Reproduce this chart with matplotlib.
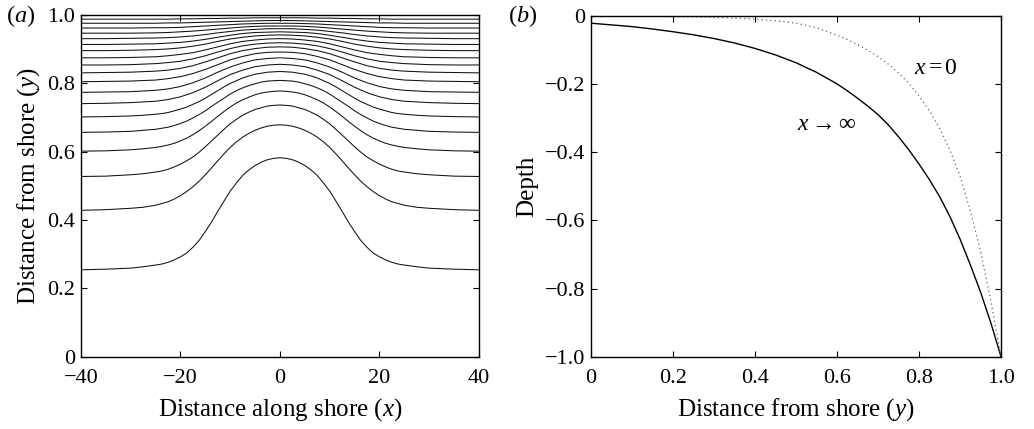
import matplotlib
matplotlib.use("Agg")
import matplotlib.pyplot as plt
from matplotlib.ticker import FuncFormatter, FixedLocator

plt.rcParams['font.family'] = ['Liberation Serif', 'DejaVu Serif']
plt.rcParams['mathtext.fontset'] = 'custom'
plt.rcParams['mathtext.rm'] = 'Liberation Serif'
plt.rcParams['mathtext.it'] = 'Liberation Serif:italic'
plt.rcParams['mathtext.cal'] = 'Liberation Serif'
plt.rcParams['axes.unicode_minus'] = True

# ---------------- Panel (a): depth contours, half profiles (x >= 0), symmetric about x = 0 ----------------
x_half_fine = [0, 1.25, 2.5, 3.75, 5, 6.25, 7.5, 8.75, 10, 11.25, 12.5, 13.75, 15, 16.25, 17.5,
               18.75, 20, 21.25, 22.5, 23.75, 25, 27.5, 30, 35, 40]
x_half_coarse = [0, 2.5, 5, 7.5, 10, 12.5, 15, 17.5, 20, 22.5, 25, 30, 35, 40]

line01 = [0.582, 0.580, 0.576, 0.569, 0.559, 0.546, 0.530, 0.508, 0.484, 0.455, 0.425, 0.394, 0.366,
          0.340, 0.320, 0.303, 0.292, 0.283, 0.276, 0.271, 0.268, 0.263, 0.259, 0.256, 0.254]
line02 = [0.678, 0.677, 0.674, 0.669, 0.662, 0.653, 0.642, 0.628, 0.612, 0.593, 0.573, 0.552, 0.532,
          0.513, 0.497, 0.483, 0.471, 0.461, 0.453, 0.448, 0.443, 0.437, 0.434, 0.430, 0.428]
line03 = [0.736, 0.735, 0.733, 0.728, 0.723, 0.715, 0.706, 0.694, 0.681, 0.665, 0.648, 0.631, 0.614,
          0.598, 0.584, 0.573, 0.563, 0.555, 0.548, 0.543, 0.540, 0.535, 0.532, 0.528, 0.527]
line04 = [0.777, 0.776, 0.774, 0.771, 0.766, 0.759, 0.751, 0.742, 0.730, 0.717, 0.703, 0.688, 0.674,
          0.661, 0.649, 0.639, 0.631, 0.624, 0.619, 0.615, 0.612, 0.608, 0.605, 0.602, 0.601]
line05 = [0.808, 0.807, 0.806, 0.803, 0.798, 0.793, 0.786, 0.778, 0.768, 0.756, 0.744, 0.732, 0.719,
          0.708, 0.698, 0.689, 0.682, 0.676, 0.671, 0.668, 0.665, 0.662, 0.659, 0.657, 0.656]
line06 = [0.834, 0.833, 0.832, 0.829, 0.826, 0.821, 0.815, 0.807, 0.799, 0.789, 0.778, 0.767, 0.756,
          0.746, 0.738, 0.730, 0.724, 0.719, 0.714, 0.711, 0.709, 0.706, 0.704, 0.702, 0.701]

line07 = [0.855, 0.853, 0.848, 0.838, 0.825, 0.807, 0.788, 0.772, 0.760, 0.752, 0.747, 0.743, 0.741, 0.740]
line08 = [0.874, 0.872, 0.868, 0.859, 0.847, 0.832, 0.815, 0.801, 0.790, 0.783, 0.779, 0.775, 0.774, 0.773]
line09 = [0.891, 0.890, 0.886, 0.878, 0.868, 0.854, 0.840, 0.828, 0.819, 0.813, 0.809, 0.806, 0.805, 0.804]
line10 = [0.906, 0.905, 0.901, 0.895, 0.886, 0.874, 0.862, 0.851, 0.843, 0.838, 0.835, 0.832, 0.831, 0.830]
line11 = [0.918, 0.917, 0.914, 0.909, 0.901, 0.891, 0.880, 0.871, 0.864, 0.860, 0.857, 0.854, 0.853, 0.853]
line12 = [0.930, 0.929, 0.926, 0.922, 0.915, 0.906, 0.897, 0.889, 0.884, 0.880, 0.877, 0.875, 0.874, 0.874]
line13 = [0.941, 0.940, 0.938, 0.934, 0.929, 0.922, 0.914, 0.908, 0.903, 0.900, 0.898, 0.896, 0.895, 0.895]
line14 = [0.950, 0.949, 0.948, 0.945, 0.940, 0.934, 0.928, 0.923, 0.919, 0.917, 0.915, 0.914, 0.913, 0.913]
line15 = [0.959, 0.959, 0.957, 0.955, 0.951, 0.947, 0.942, 0.938, 0.935, 0.933, 0.932, 0.931, 0.930, 0.930]
line16 = [0.967, 0.967, 0.966, 0.964, 0.961, 0.958, 0.955, 0.952, 0.950, 0.948, 0.947, 0.946, 0.946, 0.946]
line17 = [0.975, 0.975, 0.974, 0.973, 0.971, 0.969, 0.967, 0.965, 0.963, 0.962, 0.962, 0.961, 0.961, 0.961]
line18 = [0.983, 0.983, 0.982, 0.981, 0.980, 0.979, 0.978, 0.977, 0.976, 0.976, 0.975, 0.975, 0.975, 0.975]
line19 = [0.991, 0.991, 0.991, 0.990, 0.990, 0.989, 0.989, 0.988, 0.988, 0.987, 0.987, 0.987, 0.987, 0.987]

fine_lines = [line01, line02, line03, line04, line05, line06]
coarse_lines = [line07, line08, line09, line10, line11, line12, line13, line14, line15, line16,
                line17, line18, line19]

xa_ticks = [-40, -20, 0, 20, 40]
ya_ticks = [0, 0.2, 0.4, 0.6, 0.8, 1.0]

# ---------------- Panel (b): depth profiles ----------------
y_prof = [0, 0.05, 0.1, 0.15, 0.2, 0.25, 0.3, 0.35, 0.4, 0.45, 0.5, 0.55, 0.6, 0.625, 0.65, 0.675,
          0.7, 0.725, 0.75, 0.775, 0.8, 0.825, 0.85, 0.875, 0.9, 0.925, 0.95, 0.975, 1.0]
depth_far = [-0.022, -0.027, -0.032, -0.039, -0.047, -0.056, -0.067, -0.080, -0.096, -0.115, -0.138,
             -0.166, -0.200, -0.220, -0.242, -0.265, -0.290, -0.320, -0.355, -0.393, -0.435, -0.480,
             -0.530, -0.588, -0.655, -0.730, -0.810, -0.900, -1.0]
depth_mid = [-0.002, -0.002, -0.002, -0.002, -0.003, -0.004, -0.005, -0.007, -0.010, -0.015, -0.022,
             -0.035, -0.057, -0.070, -0.085, -0.101, -0.120, -0.142, -0.168, -0.198, -0.235, -0.278,
             -0.330, -0.393, -0.470, -0.572, -0.690, -0.835, -1.0]

xb_ticks = [0, 0.2, 0.4, 0.6, 0.8, 1.0]
yb_ticks = [-1.0, -0.8, -0.6, -0.4, -0.2, 0]


def fmt(v, pos=None):
    if abs(v) < 1e-9:
        return "0"
    if abs(v) >= 10:
        s = "%d" % round(v)
    else:
        s = "%.1f" % v
    return s.replace("-", "\u2212")


def mirror(xh, yh):
    return [-v for v in xh[::-1]] + xh[1:], yh[::-1] + yh[1:]


fig = plt.figure(figsize=(10.34, 4.29), dpi=100)
ax1 = fig.add_axes([0.0783, 0.1685, 0.3849, 0.7972])
ax2 = fig.add_axes([0.5716, 0.1685, 0.3965, 0.7949])

for ln in fine_lines:
    xs, ys = mirror(x_half_fine, ln)
    ax1.plot(xs, ys, color='#111111', lw=0.75)
for ln in coarse_lines:
    xs, ys = mirror(x_half_coarse, ln)
    ax1.plot(xs, ys, color='#111111', lw=0.75)

ax1.set_xlim(-40, 40)
ax1.set_ylim(0, 1.0)
ax1.xaxis.set_major_locator(FixedLocator(xa_ticks))
ax1.yaxis.set_major_locator(FixedLocator(ya_ticks))
ax1.set_xlabel("Distance along shore ($x$)", fontsize=18, labelpad=6)
ax1.set_ylabel("Distance from shore ($y$)", fontsize=18, labelpad=4)

ax2.plot(y_prof, depth_far, color='black', lw=1.0)
ax2.plot(y_prof, depth_mid, color='#666666', lw=0.9, linestyle=(0, (1, 2.5)))
ax2.set_xlim(0, 1.0)
ax2.set_ylim(-1.0, 0)
ax2.xaxis.set_major_locator(FixedLocator(xb_ticks))
ax2.yaxis.set_major_locator(FixedLocator(yb_ticks))
ax2.set_xlabel("Distance from shore ($y$)", fontsize=18, labelpad=6)
ax2.set_ylabel("Depth", fontsize=18, labelpad=5)
ax2.text(0.84, -0.155, "$x = 0$", fontsize=17, ha='center', va='center')
ax2.text(0.575, -0.318, r"$x \rightarrow \infty$", fontsize=17, ha='center', va='center')

for ax in (ax1, ax2):
    ax.xaxis.set_major_formatter(FuncFormatter(fmt))
    ax.yaxis.set_major_formatter(FuncFormatter(fmt))
    ax.tick_params(direction='in', top=True, right=True, length=4, width=0.8,
                   labelsize=16)
    ax.tick_params(axis='x', pad=9)
    ax.tick_params(axis='y', pad=4)
    for sp in ax.spines.values():
        sp.set_linewidth(1.0)

fig.text(0.0195, 0.962, "($a$)", fontsize=17.5, ha='center', va='center')
fig.text(0.5055, 0.962, "($b$)", fontsize=17.5, ha='center', va='center')

fig.savefig("out.png", dpi=100)
